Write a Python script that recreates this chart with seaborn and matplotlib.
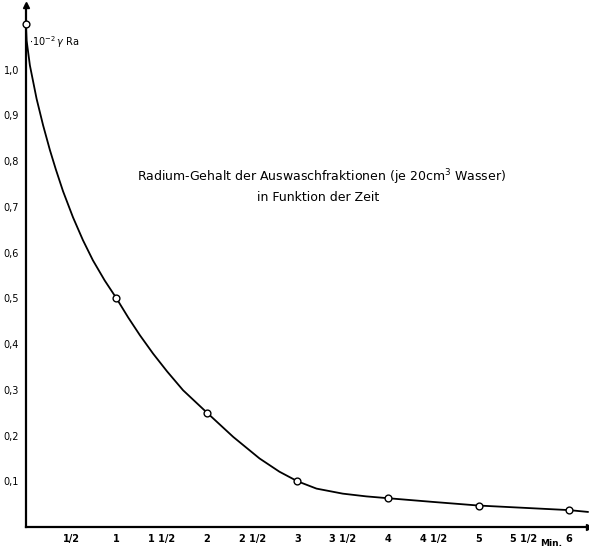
import numpy as np
import pandas as pd
import seaborn as sns
import matplotlib.pyplot as plt

# Messpunkte (Minuten, 10^-2 gamma Ra)
zeit = [0, 1, 2, 3, 4, 5, 6]
radium = [1.10, 0.50, 0.25, 0.10, 0.063, 0.047, 0.037]

# Verlauf der gezeichneten Kurve
kurve_x = [0, 0.008, 0.044, 0.118, 0.19, 0.265, 0.33, 0.41, 0.52, 0.63, 0.74, 0.87,
           1.0, 1.13, 1.26, 1.405, 1.56, 1.736, 2.0, 2.29, 2.58, 2.80, 3.0, 3.21,
           3.50, 3.76, 4.0, 4.49, 5.0, 6.0, 6.21]
kurve_y = [1.10, 1.063, 1.009, 0.936, 0.878, 0.824, 0.782, 0.734, 0.677, 0.627, 0.583, 0.539,
           0.50, 0.458, 0.419, 0.379, 0.340, 0.299, 0.250, 0.197, 0.150, 0.121, 0.10, 0.084,
           0.073, 0.067, 0.063, 0.055, 0.047, 0.037, 0.033]

x_ticks = [0.5, 1, 1.5, 2, 2.5, 3, 3.5, 4, 4.5, 5, 5.5, 6]
x_labels = ['1/2', '1', '1 1/2', '2', '2 1/2', '3', '3 1/2', '4', '4 1/2', '5', '5 1/2', '6']
y_ticks = [0.1, 0.2, 0.3, 0.4, 0.5, 0.6, 0.7, 0.8, 0.9, 1.0]
y_labels = ['0,1', '0,2', '0,3', '0,4', '0,5', '0,6', '0,7', '0,8', '0,9', '1,0']

sns.set_style('white')
plt.rcParams['font.family'] = ['DejaVu Sans']
plt.rcParams['text.color'] = 'black'
plt.rcParams['xtick.color'] = 'black'
plt.rcParams['ytick.color'] = 'black'

fig = plt.figure(figsize=(5.89, 5.49), dpi=100)
ax = fig.add_axes([0.044, 0.040, 0.956, 0.95])

kurve = pd.DataFrame({'t': kurve_x, 'r': kurve_y})
punkte = pd.DataFrame({'t': zeit, 'r': radium})
sns.lineplot(data=kurve, x='t', y='r', color='black', linewidth=1.3, sort=False, ax=ax)
sns.scatterplot(data=punkte, x='t', y='r', marker='o', s=24, facecolor='white',
                edgecolor='black', linewidth=1.0, zorder=5, ax=ax, clip_on=False)

ax.set_xlim(0, 6.22)
ax.set_ylim(0, 1.14)
ax.set_xlabel('')
ax.set_ylabel('')

for s in ['top', 'right']:
    ax.spines[s].set_visible(False)
for s in ['left', 'bottom']:
    ax.spines[s].set_linewidth(1.6)
    ax.spines[s].set_color('black')

# Pfeilspitzen an den Achsen
ax.plot(1, 0, '>', color='black', markersize=5, transform=ax.transAxes, clip_on=False)
ax.plot(0, 1, '^', color='black', markersize=5, transform=ax.transAxes, clip_on=False)

ax.set_xticks(x_ticks)
ax.set_xticklabels(x_labels, fontsize=7, fontweight='bold')
ax.set_yticks(y_ticks)
ax.set_yticklabels(y_labels, fontsize=7)
ax.tick_params(axis='both', direction='inout', length=6, width=1, color='black', pad=2)

ax.text(0.03, 1.06, r'$\cdot10^{-2}\,\gamma$ Ra', fontsize=7, va='center', ha='left')
fig.text(0.935, 0.002, 'Min.', fontsize=6.5, fontweight='bold', ha='center', va='bottom')
fig.text(0.233, 0.677, 'Radium-Gehalt der Auswaschfraktionen (je 20cm$^3$ Wasser)',
         fontsize=9, ha='left', va='center')
fig.text(0.436, 0.641, 'in Funktion der Zeit', fontsize=9, ha='left', va='center')

fig.savefig('out.png', dpi=100)
